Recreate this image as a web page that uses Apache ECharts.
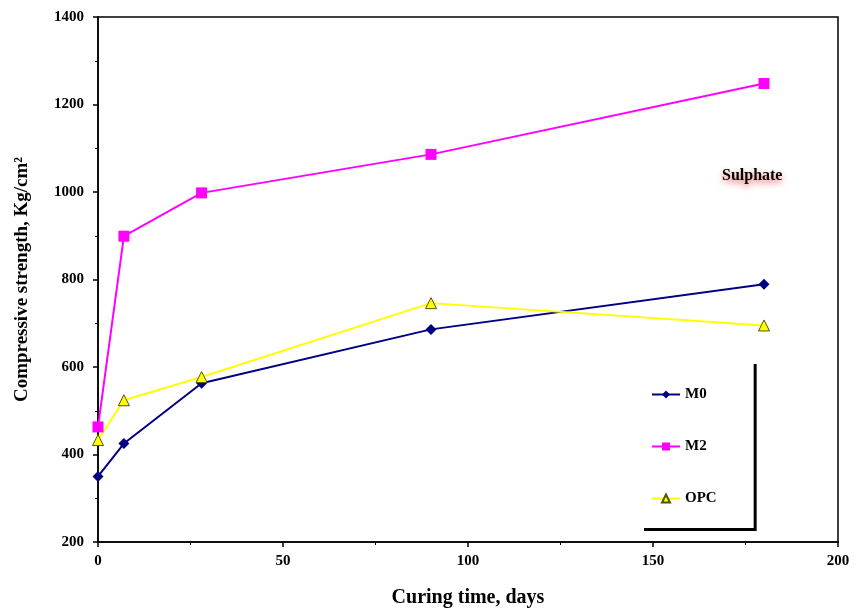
<!DOCTYPE html>
<html><head><meta charset="utf-8">
<script src="https://cdn.jsdelivr.net/npm/echarts@6/dist/echarts.min.js"></script>
<style>html,body{margin:0;padding:0;background:#fff}#c{width:857px;height:613px}</style>
</head><body><div id="c"></div>
<script>
const days = [0, 7, 28, 90, 180];
const m0 = [350, 425, 563, 686, 789];
const m2 = [463, 899, 998, 1086, 1248];
const opc = [433, 524, 577, 746, 695];
const xTicks = [0, 50, 100, 150, 200];
const yTicks = [200, 400, 600, 800, 1000, 1200, 1400];

const font = '"Liberation Serif", "Times New Roman", serif';
const chart = echarts.init(document.getElementById('c'));
const pairs = a => days.map((d, i) => [d, a[i]]);
chart.setOption({
  animation: false,
  backgroundColor: '#fff',
  grid: {left: 98, right: 19, top: 17, bottom: 69, show: true, borderColor: '#000', borderWidth: 1.5},
  xAxis: {
    type: 'value', min: xTicks[0], max: xTicks[xTicks.length - 1], interval: 50,
    name: 'Curing time, days', nameLocation: 'middle', nameGap: 46,
    nameTextStyle: {fontFamily: font, fontWeight: 'bold', fontSize: 20, color: '#000'},
    axisLine: {lineStyle: {color: '#000', width: 1.5}},
    axisTick: {length: 5, lineStyle: {color: '#000', width: 1.5}},
    minorTick: {show: true, splitNumber: 2, length: 3, lineStyle: {color: '#000'}},
    splitLine: {show: false},
    axisLabel: {fontFamily: font, fontWeight: 'bold', fontSize: 15, color: '#000', margin: 12,
      formatter: v => String(v)}
  },
  yAxis: {
    type: 'value', min: yTicks[0], max: yTicks[yTicks.length - 1], interval: 200,
    name: 'Compressive strength, Kg/cm²', nameLocation: 'middle', nameGap: 66,
    nameTextStyle: {fontFamily: font, fontWeight: 'bold', fontSize: 19, color: '#000'},
    axisLine: {lineStyle: {color: '#000', width: 1.5}},
    axisTick: {length: 5, lineStyle: {color: '#000', width: 1.5}},
    minorTick: {show: true, splitNumber: 2, length: 3, lineStyle: {color: '#000'}},
    splitLine: {show: false},
    axisLabel: {fontFamily: font, fontWeight: 'bold', fontSize: 15, color: '#000', margin: 14,
      formatter: v => String(v)}
  },
  legend: {
    orient: 'vertical', left: 641, top: 361,
    itemGap: 37, itemWidth: 28, itemHeight: 10,
    padding: [26, 37, 22, 10],
    backgroundColor: '#fff', shadowColor: '#000', shadowBlur: 0, shadowOffsetX: 3, shadowOffsetY: 3,
    textStyle: {fontFamily: font, fontWeight: 'bold', fontSize: 15, color: '#000'},
    data: ['M0', 'M2', 'OPC']
  },
  graphic: [{
    type: 'text', left: 722, top: 168,
    style: {text: 'Sulphate', fontFamily: font, fontWeight: 'bold', fontSize: 16, fill: '#000',
      textShadowColor: 'rgba(230,60,60,0.8)', textShadowBlur: 6, textShadowOffsetY: 3}
  }],
  series: [
    {name: 'M0', type: 'line', data: pairs(m0), symbol: 'diamond', symbolSize: 11,
     lineStyle: {color: '#000080', width: 2}, itemStyle: {color: '#000080'}},
    {name: 'M2', type: 'line', data: pairs(m2), symbol: 'rect', symbolSize: 11,
     lineStyle: {color: '#FF00FF', width: 2}, itemStyle: {color: '#FF00FF'}},
    {name: 'OPC', type: 'line', data: pairs(opc), symbol: 'triangle', symbolSize: 11,
     lineStyle: {color: '#FFFF00', width: 2}, itemStyle: {color: '#FFFF00', borderColor: '#555500', borderWidth: 1}}
  ]
});
</script></body></html>
